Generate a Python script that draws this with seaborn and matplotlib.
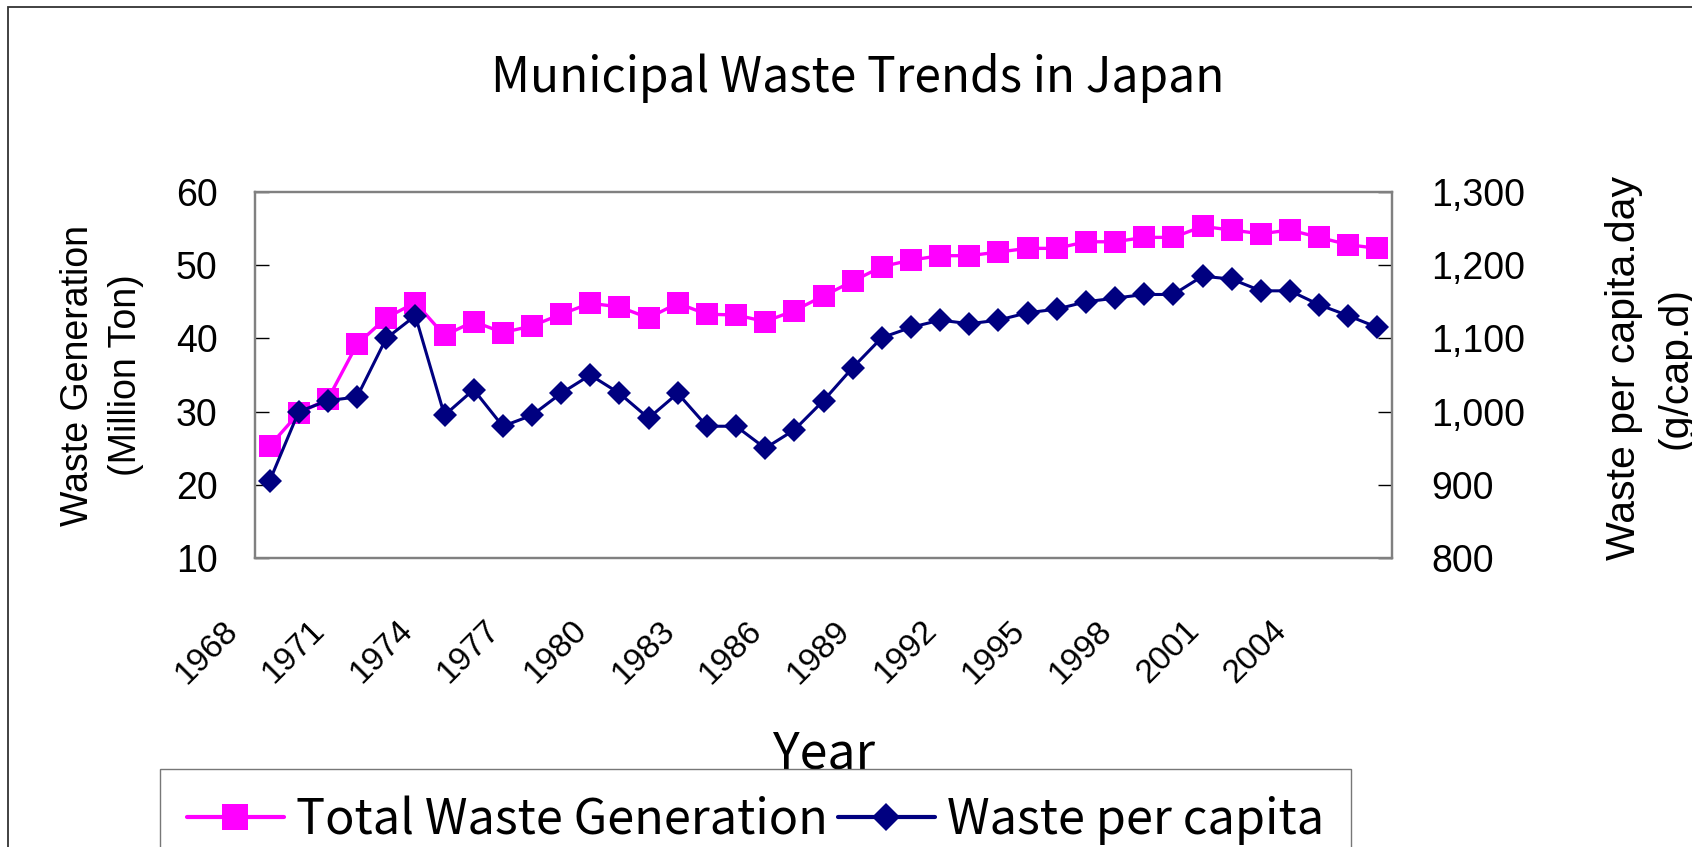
import numpy as np
import pandas as pd
import matplotlib
matplotlib.use('Agg')
import matplotlib.pyplot as plt
import matplotlib.transforms as mtransforms
from matplotlib.patches import Rectangle
from matplotlib.ticker import FuncFormatter
import seaborn as sns

# Data (fiscal years 1968-2006)
years = list(range(1968, 2007))
total_waste = [25.3, 29.8, 31.7, 39.2, 42.8, 44.9, 40.4, 42.3, 40.8, 41.7,
               43.3, 44.8, 44.3, 42.8, 44.8, 43.3, 43.2, 42.3, 43.8, 45.8,
               47.8, 49.8, 50.7, 51.3, 51.3, 51.8, 52.3, 52.3, 53.2, 53.2,
               53.8, 53.8, 55.3, 54.8, 54.3, 54.8, 53.8, 52.8, 52.3]
per_capita = [905, 1000, 1015, 1020, 1100, 1131, 995, 1030, 980, 995,
              1025, 1050, 1025, 991, 1025, 980, 980, 950, 975, 1015,
              1060, 1101, 1115, 1125, 1120, 1125, 1135, 1140, 1150, 1155,
              1160, 1160, 1185, 1181, 1165, 1165, 1146, 1131, 1115]
series_names = ['Total Waste Generation', 'Waste per capita']
left_ticks = [10, 20, 30, 40, 50, 60]
right_ticks = [800, 900, 1000, 1100, 1200, 1300]

df = pd.DataFrame({'year': years, 'total': total_waste, 'per_capita': per_capita})
df['pos'] = np.arange(len(df))

sns.set_style('white')
jp = ['Noto Sans CJK JP', 'DejaVu Sans']
arial = ['Liberation Sans', 'DejaVu Sans']
plt.rcParams['font.family'] = arial
plt.rcParams['text.color'] = 'black'
plt.rcParams['axes.labelcolor'] = 'black'
plt.rcParams['xtick.color'] = 'black'
plt.rcParams['ytick.color'] = 'black'

W, H = 1692, 847
fig = plt.figure(figsize=(W / 100, H / 100), dpi=100)
ax = fig.add_axes([255 / W, 1 - 558 / H, 1137 / W, 366 / H])
ax2 = ax.twinx()

sns.lineplot(data=df, x='pos', y='total', ax=ax, color='#FF00FF', marker='s',
             markersize=16, markeredgewidth=0, linewidth=2.4,
             label=series_names[0], legend=False)
sns.lineplot(data=df, x='pos', y='per_capita', ax=ax2, color='#000080', marker='D',
             markersize=12.5, markeredgewidth=0, linewidth=2.2,
             label=series_names[1], legend=False)

# axes ranges
ax.set_xlim(-0.5, len(df) - 0.5)
ax.set_ylim(left_ticks[0], left_ticks[-1])
ax2.set_ylim(right_ticks[0], right_ticks[-1])

# x ticks: marks at category boundaries, labels every 3 years
ax.set_xticks(np.arange(-0.5, len(df), 1), minor=True)
ax.set_xticks(df['pos'][::3])
ax.set_xticklabels([str(y) for y in df['year'][::3]], rotation=45, ha='right', va='top')
ax.tick_params(axis='x', which='major', length=0, pad=41, labelsize=24)
ax.tick_params(axis='x', which='minor', direction='in', length=10, width=1, color='black')
shift = mtransforms.ScaledTranslation(-26 / 100, 0, fig.dpi_scale_trans)
for lab in ax.get_xticklabels():
    lab.set_transform(lab.get_transform() + shift)

ax.set_yticks(left_ticks)
ax.tick_params(axis='y', direction='in', length=10, width=1, color='black', pad=27, labelsize=27)
ax2.set_yticks(right_ticks)
ax2.yaxis.set_major_formatter(FuncFormatter(lambda v, p: f'{int(v):,}'))
ax2.tick_params(axis='y', direction='in', length=10, width=1, color='black', pad=28, labelsize=27)

for a in (ax, ax2):
    for sp in a.spines.values():
        sp.set_color('#808080')
        sp.set_linewidth(1.6)

# labels
ax.set_xlabel('Year', fontsize=36, family=jp)
ax.xaxis.set_label_coords(0.5, -0.465)
ax.set_ylabel('Waste Generation\n(Million Ton)', fontsize=27, linespacing=1.42)
ax.yaxis.set_label_coords(-0.098, 0.5)
ax2.set_ylabel('Waste per capita.day\n(g/cap.d)', fontsize=29.5, linespacing=1.46)
ax2.yaxis.set_label_coords(1.1873, 0.519)

fig.suptitle('Municipal Waste Trends in Japan', x=0.507, y=1 - 92 / H, va='baseline',
             fontsize=34.5, family=jp)

# legend
h1, l1 = ax.get_legend_handles_labels()
h2, l2 = ax2.get_legend_handles_labels()
leg = fig.legend(h1 + h2, l1 + l2, loc='upper left', bbox_to_anchor=(160 / W, 1 - 769 / H),
                 ncol=2, frameon=True, fancybox=False, edgecolor='#555555',
                 prop={'family': jp, 'size': 35}, handlelength=2.0, handletextpad=0.25,
                 columnspacing=0.2, borderaxespad=0, borderpad=0.55, markerscale=1.15)
leg.get_frame().set_linewidth(1.0)
for ln in leg.get_lines():
    ln.set_linewidth(3)

# outer chart border (runs off the right and bottom edge)
fig.add_artist(Rectangle((8 / W, -0.1), 1.2, 1.1 - 7 / H, transform=fig.transFigure,
                         fill=False, edgecolor='#333333', linewidth=1.3, clip_on=False))

fig.savefig('out.png', dpi=100)
